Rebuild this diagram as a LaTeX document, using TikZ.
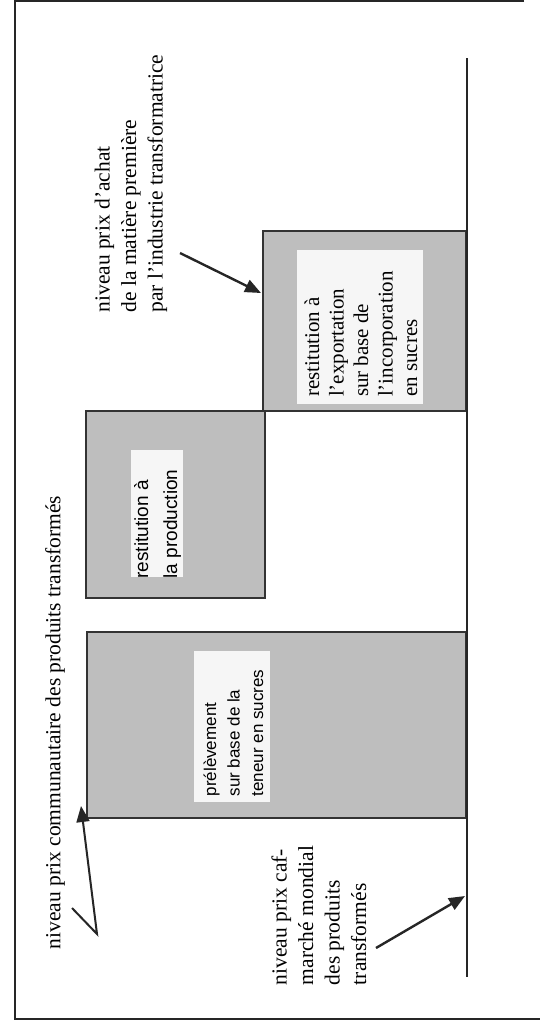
\documentclass[tikz,border=0pt]{standalone}
\usepackage{fontspec}
\setmainfont{Liberation Serif}
\newfontfamily\sansf{Liberation Sans}
\usetikzlibrary{arrows.meta}
\definecolor{barfill}{RGB}{190,190,190}
\definecolor{boxfill}{RGB}{246,246,246}
\begin{document}
\begin{tikzpicture}[x=1pt,y=-1pt,
  frame/.style={line width=2.5pt, black!85},
  axisline/.style={line width=1.8pt, black!85},
  bar/.style={draw=black!80, line width=1.6pt, fill=barfill, inner sep=0pt, anchor=north west},
  inbox/.style={fill=boxfill, inner sep=0pt, anchor=north west},
  lbl/.style={rotate=90, align=left, inner sep=0pt, font=\fontsize{21.5}{26.5}\selectfont},
  ptr/.style={line width=2.4pt, black!85, -{Triangle[length=16pt,width=13pt]}},
]
\useasboundingbox (0,0) rectangle (540,1021);

% frame
\coordinate (f1) at (524,1);
\coordinate (f2) at (15,1);
\coordinate (f3) at (15,1019);
\coordinate (f4) at (540,1019);
\draw[frame] (f1) -- (f2) -- (f3) -- (f4);

% bars
\node[bar, minimum width=203pt, minimum height=180pt] (bar3) at (262,230) {};
\node[bar, minimum width=179pt, minimum height=187pt] (bar2) at (85,410) {};
\node[bar, minimum width=379pt, minimum height=186pt] (bar1) at (86,631) {};

% axis
\coordinate (ax1) at (467,58);
\coordinate (ax2) at (467,977);
\draw[axisline] (ax1) -- (ax2);

% inner boxes
\node[inbox, minimum width=126pt, minimum height=154pt] (box3) at (297,250) {};
\node[inbox, minimum width=52pt, minimum height=127pt] (box2) at (131,450) {};
\node[inbox, minimum width=76pt, minimum height=151pt] (box1) at (194,651) {};

% box texts
\node[lbl, font=\fontsize{21}{24.5}\selectfont] (t3) at (361,334) {restitution à\\l'exportation\\sur base de\\l'incorporation\\en sucres};
\node[lbl, font=\sansf\fontsize{19}{29}\selectfont] (t2) at (157.5,524) {restitution à\\la production};
\node[lbl, font=\sansf\fontsize{17}{23.5}\selectfont] (t1) at (233.5,733) {prélèvement\\sur base de la\\teneur en sucres};

% labels
\node[lbl] (l1) at (131,183.5) {niveau prix d'achat\\de la matière première\\par l'industrie transformatrice};
\node[lbl] (l2) at (55,722.5) {niveau prix communautaire des produits transformés};
\node[lbl] (l3) at (319,915.5) {niveau prix caf-\\marché mondial\\des produits\\transformés};

% arrows
\coordinate (a1s) at (180,253);
\coordinate (a1e) at (261,293);
\draw[ptr] (a1s) -- (a1e);

\coordinate (v0) at (72,908);
\coordinate (v1) at (97,934);
\coordinate (v2) at (81,806);
\draw[ptr, line width=2pt] (v0) -- (v1) -- (v2);

\coordinate (a3s) at (376,948);
\coordinate (a3e) at (465,896);
\draw[ptr] (a3s) -- (a3e);
\end{tikzpicture}
\end{document}
